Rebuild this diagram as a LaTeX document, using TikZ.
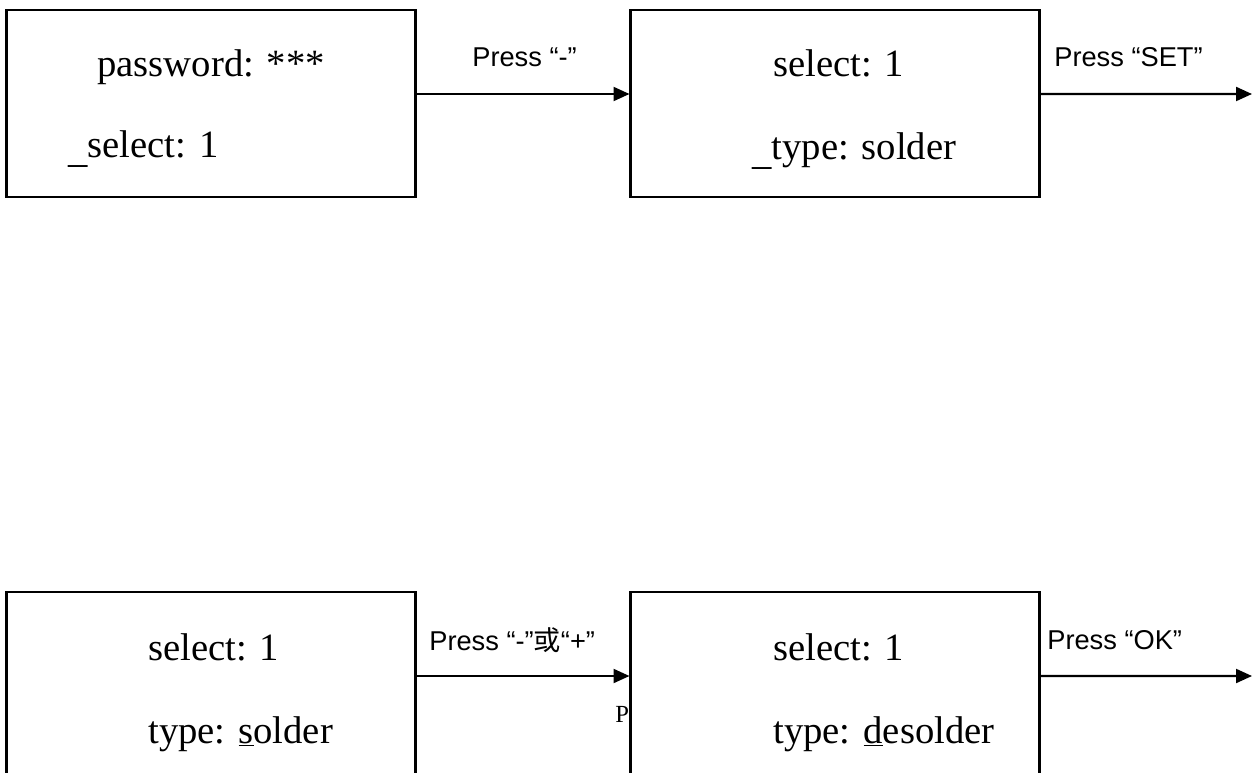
\documentclass[tikz,border=0pt]{standalone}
\usepackage{fontspec}
\setmainfont{Liberation Serif}
\newfontfamily\lblfont{Liberation Sans}
\newfontfamily\cjk{Noto Sans CJK SC}
\usetikzlibrary{arrows.meta}
\newcommand{\lowbar}{\raisebox{-0.09cm}{\_}}
\begin{document}
\begin{tikzpicture}[x=0.02cm,y=-0.02cm,
  boxst/.style={draw=black,fill=white,line width=1.2pt,minimum width=8.18cm,minimum height=3.74cm,inner sep=0pt},
  boxtxt/.style={anchor=base west,inner sep=0pt,font=\fontsize{22}{26}\selectfont},
  lbl/.style={anchor=base west,inner sep=0pt,font=\lblfont\fontsize{15.5}{18}\selectfont},
  foot/.style={anchor=base west,inner sep=0pt,font=\fontsize{14}{16}\selectfont},
  arr/.style={line width=1.2pt,-{Triangle[length=0.32cm,width=0.28cm]}}]
\useasboundingbox (0,0) rectangle (1256,773);
\clip (0,0) rectangle (1256,773);
\fill[white] (0,0) rectangle (1256,773);
% top row
\node[boxst] (b1) at (211,103.5) {};
\node[boxst] (b2) at (835,103.5) {};
\node[boxtxt] (t1a) at (97,77) {password: ***};
\node[boxtxt] (t1b) at (68,158) {\lowbar select: 1};
\node[boxtxt] (t2a) at (773,77) {select: 1};
\node[boxtxt] (t2b) at (752,160) {\lowbar type: solder};
\coordinate (e1) at (1252,94);
\draw[arr] ([yshift=0.19cm]b1.east) -- ([yshift=0.19cm]b2.west);
\draw[arr] ([yshift=0.19cm]b2.east) -- (e1);
\node[lbl] (l1) at (472,66.7) {Press “-”};
\node[lbl] (l2) at (1054,66.7) {Press “SET”};
% bottom row
\node[foot] (pg) at (615,722) {Pa};
\node[boxst] (b3) at (211,685.5) {};
\node[boxst] (b4) at (835,685.5) {};
\node[boxtxt] (t3a) at (148,660) {select: 1};
\node[boxtxt] (t3b) at (148,743) {type: \underline{s}older};
\node[boxtxt] (t4a) at (773,660) {select: 1};
\node[boxtxt] (t4b) at (773,743) {type: \underline{d}esolder};
\coordinate (e2) at (1252,676);
\draw[arr] ([yshift=0.19cm]b3.east) -- ([yshift=0.19cm]b4.west);
\draw[arr] ([yshift=0.19cm]b4.east) -- (e2);
\node[lbl] (l3) at (429,650) {Press “-”{\cjk 或}“+”};
\node[lbl] (l4) at (1047,649) {Press “OK”};
\end{tikzpicture}
\end{document}
